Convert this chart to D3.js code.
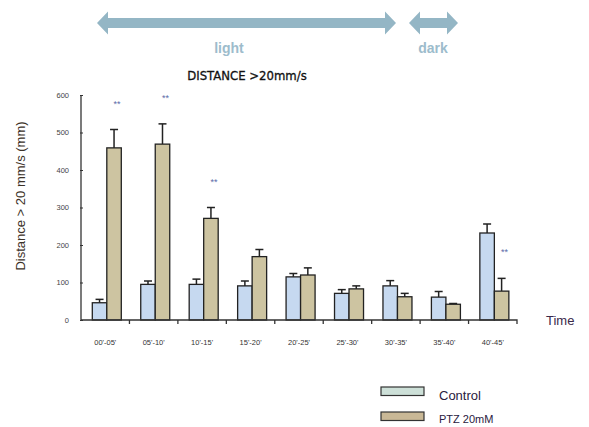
<!DOCTYPE html>
<html>
<head>
<meta charset="utf-8">
<style>
body { margin: 0; background: #fff; }
svg { display: block; font-family: "Liberation Sans", Arial, sans-serif; }
</style>
</head>
<body>
<svg width="589" height="427"></svg>
<script src="https://cdn.jsdelivr.net/npm/d3@7/dist/d3.min.js"></script>
<script>
// data
var categories = ["00'-05'", "05'-10'", "10'-15'", "15'-20'", "20'-25'", "25'-30'", "30'-35'", "35'-40'", "40'-45'"];
var seriesNames = ["Control", "PTZ 20mM"];
var controlMean = [46, 95, 95, 91, 115, 71, 91, 61, 232];
var controlErr  = [9, 9, 14, 13, 9, 10, 14, 15, 24];
var ptzMean     = [459, 469, 271, 169, 120, 83, 62, 42, 77];
var ptzErr      = [49, 54, 29, 19, 19, 8, 9, 2, 34];
var significant = [true, true, true, false, false, false, false, false, true];
var yTicks = [0, 100, 200, 300, 400, 500, 600];

var svg = d3.select("svg");
var margin = {top: 95, left: 81, right: 72, bottom: 107};
var width = 589 - margin.left - margin.right,
    height = 427 - margin.top - margin.bottom;

var g = svg.append("g").attr("transform", "translate(" + margin.left + "," + margin.top + ")");

var x = d3.scaleBand().domain(categories).range([0, width]);
var y = d3.scaleLinear().domain([0, 600]).range([height, 0]);
var barW = 14.5;
var color = {"Control": "#c6d9f0", "PTZ 20mM": "#cdc4a1"};

// top arrows (light / dark phases)
var arrowColor = "#94b6c5";
function dblArrow(x0, x1, cy) {
  var hs = 5, hh = 11.5, hl = 11;
  return "M" + x0 + "," + cy +
    "L" + (x0 + hl) + "," + (cy - hh) + "L" + (x0 + hl) + "," + (cy - hs) +
    "L" + (x1 - hl) + "," + (cy - hs) + "L" + (x1 - hl) + "," + (cy - hh) +
    "L" + x1 + "," + cy +
    "L" + (x1 - hl) + "," + (cy + hh) + "L" + (x1 - hl) + "," + (cy + hs) +
    "L" + (x0 + hl) + "," + (cy + hs) + "L" + (x0 + hl) + "," + (cy + hh) + "Z";
}
svg.append("path").attr("d", dblArrow(97, 396, 23)).attr("fill", arrowColor);
svg.append("path").attr("d", dblArrow(409, 458, 23)).attr("fill", arrowColor);
svg.append("text").attr("x", 229).attr("y", 53).attr("text-anchor", "middle")
  .attr("font-size", 14).attr("font-weight", "bold").attr("fill", "#9dbccc").text("light");
svg.append("text").attr("x", 433).attr("y", 53).attr("text-anchor", "middle")
  .attr("font-size", 14).attr("font-weight", "bold").attr("fill", "#9dbccc").text("dark");

svg.append("text").attr("x", 247).attr("y", 80).attr("text-anchor", "middle")
  .attr("font-size", 13).attr("font-family", "'DejaVu Sans Condensed', sans-serif")
  .attr("stroke", "#111").attr("stroke-width", 0.3)
  .attr("fill", "#111").text("DISTANCE >20mm/s");

// bars
var groups = g.selectAll(".cat").data(categories).enter().append("g")
  .attr("transform", function(d) { return "translate(" + (x(d) + 11.3) + ",0)"; });

var series = [
  {name: "Control", mean: controlMean, err: controlErr},
  {name: "PTZ 20mM", mean: ptzMean, err: ptzErr}
];

series.forEach(function(s, si) {
  groups.append("line")
    .attr("x1", si * barW + barW / 2).attr("x2", si * barW + barW / 2)
    .attr("y1", function(d, i) { return y(s.mean[i]); })
    .attr("y2", function(d, i) { return y(s.mean[i] + s.err[i]); })
    .attr("stroke", "#222").attr("stroke-width", 1.5);
  groups.append("line")
    .attr("x1", si * barW + barW / 2 - 4).attr("x2", si * barW + barW / 2 + 4)
    .attr("y1", function(d, i) { return y(s.mean[i] + s.err[i]); })
    .attr("y2", function(d, i) { return y(s.mean[i] + s.err[i]); })
    .attr("stroke", "#222").attr("stroke-width", 1.5);
  groups.append("rect")
    .attr("x", si * barW)
    .attr("width", barW)
    .attr("y", function(d, i) { return y(s.mean[i]); })
    .attr("height", function(d, i) { return height - y(s.mean[i]); })
    .attr("fill", color[s.name])
    .attr("stroke", "#222").attr("stroke-width", 1.3);
});

groups.filter(function(d, i) { return significant[i]; })
  .append("text")
  .attr("x", barW * 1.5 + 3)
  .attr("y", function(d) { var i = categories.indexOf(d); return y(ptzMean[i] + ptzErr[i]) - 23; })
  .attr("text-anchor", "middle").attr("font-size", 9).attr("fill", "#5a6aa8").text("**");

// axes
var yAxis = g.append("g").call(d3.axisLeft(y).tickValues(yTicks).tickSize(2).tickFormat(d3.format("d")));
yAxis.select(".domain").attr("stroke", "#333").attr("stroke-width", 1.3).attr("d", "M0," + height + "V0");
yAxis.selectAll(".tick line").attr("stroke", "#333").attr("x2", 2).attr("x1", -1);
yAxis.selectAll(".tick text").attr("x", -12).attr("font-size", 7.5).attr("fill", "#444");

var xAxis = g.append("g").attr("transform", "translate(0," + height + ")")
  .call(d3.axisBottom(x).tickSize(0));
xAxis.select(".domain").attr("stroke", "#333").attr("stroke-width", 1.3).attr("d", "M0,0H" + width + "V4");
xAxis.selectAll(".tick text").attr("y", 20).attr("font-size", 7.5).attr("fill", "#333");
g.append("g").selectAll("line").data(categories.slice(1)).enter().append("line")
  .attr("x1", function(d) { return x(d); }).attr("x2", function(d) { return x(d); })
  .attr("y1", height).attr("y2", height + 4).attr("stroke", "#333").attr("stroke-width", 1.3);

svg.append("text").attr("x", 546).attr("y", 325).attr("font-size", 13)
  .attr("fill", "#3a2a4a").text("Time");

svg.append("text").attr("transform", "translate(25,196) rotate(-90)")
  .attr("text-anchor", "middle").attr("font-size", 13).attr("fill", "#3c3228")
  .text("Distance > 20 mm/s (mm)");

// legend
var legendColor = ["#cde0d8", "#c9b896"];
var legend = svg.append("g").selectAll("g").data(seriesNames).enter().append("g")
  .attr("transform", function(d, i) { return "translate(381," + (387 + i * 25) + ")"; });
legend.append("rect").attr("width", 43).attr("height", 8.5)
  .attr("fill", function(d, i) { return legendColor[i]; })
  .attr("stroke", "#333").attr("stroke-width", 1.2);
legend.append("text").attr("x", 58).attr("y", function(d, i) { return i === 0 ? 13 : 11; })
  .attr("font-size", function(d, i) { return i === 0 ? 13 : 11; })
  .attr("fill", "#2a2040").text(function(d) { return d; });
</script>
</body>
</html>
